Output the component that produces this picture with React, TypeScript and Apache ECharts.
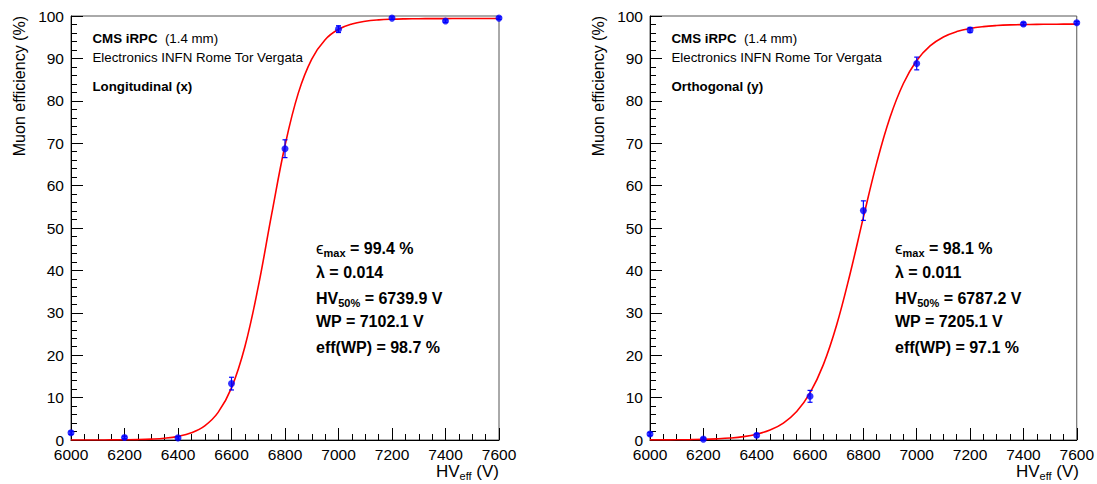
import React, { useEffect, useRef } from "react";
import * as echarts from "echarts";

const hv = [6000, 6200, 6400, 6600, 6800, 7000, 7200, 7400, 7600];
const effLong = [1.7, 0.6, 0.5, 13.3, 68.7, 96.9, 99.5, 98.8, 99.5];
const errLong = [0.4, 0.3, 0.3, 1.5, 2.1, 0.8, 0.3, 0.3, 0.3];
const effOrth = [1.4, 0.2, 1.1, 10.3, 54.1, 88.8, 96.7, 98.1, 98.4];
const errOrth = [0.4, 0.3, 0.4, 1.4, 2.3, 1.5, 0.6, 0.4, 0.3];

const fitHv = [
  6000, 6050, 6100, 6150, 6200, 6250, 6300, 6350, 6400, 6450, 6500, 6550, 6600,
  6650, 6700, 6750, 6800, 6850, 6900, 6950, 7000, 7050, 7100, 7150, 7200, 7250,
  7300, 7350, 7400, 7450, 7500, 7550, 7600,
];
const fitLong = [
  0.0, 0.01, 0.01, 0.03, 0.05, 0.1, 0.21, 0.42, 0.85, 1.69, 3.34, 6.51, 12.29,
  21.99, 36.16, 53.21, 69.46, 81.87, 89.84, 94.41, 96.86, 98.12, 98.76, 99.08,
  99.24, 99.32, 99.36, 99.38, 99.39, 99.4, 99.4, 99.4, 99.4,
];
const fitOrth = [
  0.02, 0.03, 0.05, 0.09, 0.15, 0.27, 0.46, 0.79, 1.37, 2.35, 4.0, 6.72, 11.1,
  17.77, 27.18, 39.16, 52.5, 65.36, 76.1, 84.08, 89.49, 92.94, 95.06, 96.32,
  97.07, 97.5, 97.75, 97.9, 97.98, 98.03, 98.06, 98.08, 98.09,
];

const headerTitle = "CMS iRPC";
const headerGap = "(1.4 mm)";
const headerSub = "Electronics INFN Rome Tor Vergata";
const panelLabels = ["Longitudinal (x)", "Orthogonal (y)"];
const statsLong = ["99.4 %", "0.014", "6739.9 V", "7102.1 V", "98.7 %"];
const statsOrth = ["98.1 %", "0.011", "6787.2 V", "7205.1 V", "97.1 %"];
const yTitle = "Muon efficiency (%)";

const FONT = "'Liberation Sans', Arial, Helvetica, sans-serif";

const grids = [
  { left: 71, top: 16, width: 428, height: 424 },
  { left: 650, top: 16, width: 429, height: 424 },
];

function App() {
  const ref = useRef<HTMLDivElement>(null);
  useEffect(() => {
    if (!ref.current) return;
    const chart = echarts.init(ref.current, undefined, { renderer: "svg" });

    const xAxes = grids.map((_, i) => ({
      type: "value",
      gridIndex: i,
      min: 6000,
      max: 7600,
      interval: 200,
      axisLine: { show: true, lineStyle: { color: "#000", width: 1 } },
      axisTick: { show: true, inside: true, length: 12, lineStyle: { color: "#000" } },
      minorTick: { show: true, splitNumber: 4, length: 6, lineStyle: { color: "#000" } },
      splitLine: { show: false },
      axisLabel: {
        color: "#000",
        fontSize: 15.5,
        fontFamily: FONT,
        margin: 7,
        lineHeight: 14,
        formatter: (v: number) => String(v),
      },
    }));
    const yAxes = grids.map((_, i) => ({
      type: "value",
      gridIndex: i,
      min: 0,
      max: 100,
      interval: 10,
      axisLine: { show: true, lineStyle: { color: "#000", width: 1 } },
      axisTick: { show: true, inside: true, length: 12, lineStyle: { color: "#000" } },
      minorTick: { show: true, splitNumber: 5, length: 6, lineStyle: { color: "#000" } },
      splitLine: { show: false },
      axisLabel: { color: "#000", fontSize: 15.5, fontFamily: FONT, margin: 7, lineHeight: 10 },
    }));

    const errRender = (errs: number[]) => (params: any, api: any) => {
      const idx = params.dataIndex;
      const x = api.value(0);
      const y = api.value(1);
      const e = errs[idx];
      const top = api.coord([x, y + e]);
      const bot = api.coord([x, y - e]);
      const cap = 2.5;
      const style = { stroke: "#0000ff", lineWidth: 1.2 };
      return {
        type: "group",
        children: [
          { type: "line", shape: { x1: top[0], y1: top[1], x2: bot[0], y2: bot[1] }, style },
          { type: "line", shape: { x1: top[0] - cap, y1: top[1], x2: top[0] + cap, y2: top[1] }, style },
          { type: "line", shape: { x1: bot[0] - cap, y1: bot[1], x2: bot[0] + cap, y2: bot[1] }, style },
        ],
      };
    };

    const effs = [effLong, effOrth];
    const errs = [errLong, errOrth];
    const fits = [fitLong, fitOrth];

    const series: any[] = [];
    for (let i = 0; i < 2; i++) {
      series.push({
        type: "line",
        xAxisIndex: i,
        yAxisIndex: i,
        data: fitHv.map((h, k) => [h, fits[i][k]]),
        smooth: 0.4,
        showSymbol: false,
        symbol: "none",
        lineStyle: { color: "#ff0000", width: 1.6 },
        z: 2,
      });
      series.push({
        type: "custom",
        xAxisIndex: i,
        yAxisIndex: i,
        data: hv.map((h, k) => [h, effs[i][k]]),
        renderItem: errRender(errs[i]),
        z: 3,
      });
      series.push({
        type: "scatter",
        xAxisIndex: i,
        yAxisIndex: i,
        data: hv.map((h, k) => [h, effs[i][k]]),
        symbol: "circle",
        symbolSize: 7,
        itemStyle: { color: "#0000ff" },
        z: 4,
      });
    }

    const rowsY = [248, 272.5, 298, 321.5, 347.5];
    const stats = [statsLong, statsOrth];
    const graphic: any[] = [];
    const m = { fontSize: 16, fontWeight: "bold", fontFamily: FONT, fill: "#000", lineHeight: 20 };
    const mReg = { fontSize: 17, fontFamily: FONT, fill: "#000", lineHeight: 20 };
    const s = { fontSize: 11, fontWeight: "bold", fontFamily: FONT, fill: "#000", lineHeight: 12, verticalAlign: "bottom" };
    const s2 = { fontSize: 11, fontWeight: "bold", fontFamily: FONT, fill: "#000", lineHeight: 9, verticalAlign: "bottom" };

    for (let i = 0; i < 2; i++) {
      const g = grids[i];
      const sx = g.left + 245;
      const v = stats[i];
      const lines = [
        `{r|ϵ}{s|max}{m| = ${v[0]}}`,
        `{m|λ = ${v[1]}}`,
        `{m|HV}{s2|50%}{m| = ${v[2]}}`,
        `{m|WP = ${v[3]}}`,
        `{m|eff(WP) = ${v[4]}}`,
      ];
      lines.forEach((t, k) => {
        graphic.push({
          type: "text",
          x: sx,
          y: rowsY[k],
          style: {
            text: t,
            align: "left",
            verticalAlign: "middle",
            rich: { m, r: mReg, s, s2 },
          },
        });
      });
      const hx = g.left + 21.5;
      graphic.push({
        type: "text",
        x: hx,
        y: 38,
        style: {
          text: `{b|${headerTitle}}{n|  ${headerGap}}`,
          align: "left",
          verticalAlign: "middle",
          rich: {
            b: { fontSize: 13.3, fontWeight: "bold", fontFamily: FONT, fill: "#000" },
            n: { fontSize: 13.3, fontFamily: FONT, fill: "#000" },
          },
        },
      });
      graphic.push({
        type: "text",
        x: hx,
        y: 57,
        style: { text: headerSub, fontSize: 13.3, fontFamily: FONT, fill: "#000", align: "left", verticalAlign: "middle" },
      });
      graphic.push({
        type: "text",
        x: hx,
        y: 86,
        style: { text: panelLabels[i], fontSize: 13.3, fontWeight: "bold", fontFamily: FONT, fill: "#000", align: "left", verticalAlign: "middle" },
      });
      graphic.push({
        type: "text",
        x: g.left - 52,
        y: g.top,
        rotation: Math.PI / 2,
        style: { text: yTitle, fontSize: 16, fontFamily: FONT, fill: "#000", align: "right", verticalAlign: "middle" },
      });
      graphic.push({
        type: "text",
        x: g.left + g.width,
        y: 471,
        style: {
          text: "{m|HV}{s|eff}{m| (V)}",
          align: "right",
          verticalAlign: "middle",
          rich: {
            m: { fontSize: 17, fontFamily: FONT, fill: "#000", lineHeight: 20 },
            s: { fontSize: 11, fontFamily: FONT, fill: "#000", lineHeight: 11, verticalAlign: "bottom" },
          },
        },
      });
    }

    chart.setOption({
      animation: false,
      backgroundColor: "#fff",
      grid: grids.map((g) => ({ ...g, show: true, borderColor: "#555", borderWidth: 1, backgroundColor: "transparent" })),
      xAxis: xAxes,
      yAxis: yAxes,
      series,
      graphic,
    });
    return () => chart.dispose();
  }, []);
  return (
    <div
      ref={ref}
      style={{ position: "absolute", left: 0, top: 0, width: 1097, height: 484, background: "#fff" }}
    />
  );
}

export default App;
